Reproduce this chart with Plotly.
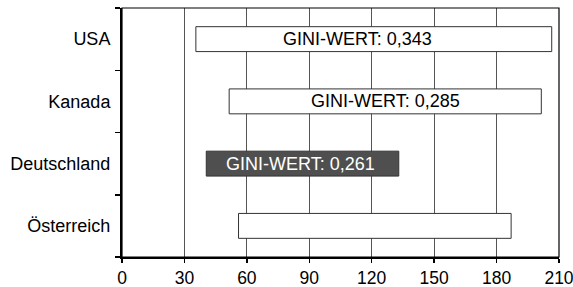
import plotly.graph_objects as go

countries = ["USA", "Kanada", "Deutschland", "Österreich"]
range_start = [35.5, 51.5, 40.5, 56]
range_end = [206.5, 201.5, 133, 187]
gini_labels = ["GINI-WERT: 0,343", "GINI-WERT: 0,285", "GINI-WERT: 0,261", ""]
label_center = [113, 126.5, 86, None]
x_ticks = [0, 30, 60, 90, 120, 150, 180, 210]

fills = ["white", "white", "#4f4f4f", "white"]
text_colors = ["black", "black", "white", "black"]

FONT = "Liberation Sans, Arial, Helvetica, sans-serif"

fig = go.Figure()
fig.add_trace(go.Bar(
    y=countries,
    x=[e - s for s, e in zip(range_start, range_end)],
    base=range_start,
    orientation="h",
    width=0.4,
    marker=dict(color=fills, line=dict(color="#333333", width=1)),
    hoverinfo="skip",
    showlegend=False,
))

for c, lab, xc, tc in zip(countries, gini_labels, label_center, text_colors):
    if lab and xc is not None:
        fig.add_annotation(x=xc, y=c, text=lab, showarrow=False,
                           font=dict(family=FONT, size=18, color=tc),
                           xanchor="center", yanchor="middle")

fig.add_shape(type="rect", xref="paper", yref="paper", x0=0, x1=1, y0=0, y1=1,
              line=dict(color="black", width=1.2), layer="above")

fig.update_layout(
    width=573, height=287,
    margin=dict(l=122, r=14, t=8, b=30, autoexpand=False),
    paper_bgcolor="white", plot_bgcolor="white",
    font=dict(family=FONT, size=17, color="black"),
    xaxis=dict(range=[0, 210], tickvals=x_ticks, ticktext=[str(v) for v in x_ticks],
               showgrid=True, gridcolor="#555555", gridwidth=1,
               showline=True, linecolor="black", linewidth=2,
               ticks="outside", ticklen=4, tickcolor="black", tickwidth=1.5,
               zeroline=False, tickfont=dict(size=17.5), automargin=False,
               ticklabeloverflow="allow"),
    yaxis=dict(categoryorder="array", categoryarray=countries[::-1],
               showgrid=False, showline=True, linecolor="black", linewidth=2,
               ticks="outside", ticklen=5, tickcolor="black", tickwidth=1.5,
               tickson="boundaries", ticklabelstandoff=6, automargin=False,
               tickfont=dict(size=18)),
    bargap=0.6,
)

fig.write_html("out.html",
               config={"displayModeBar": False, "staticPlot": True},
               post_script="document.body.style.margin='0';document.body.style.overflow='hidden';")
